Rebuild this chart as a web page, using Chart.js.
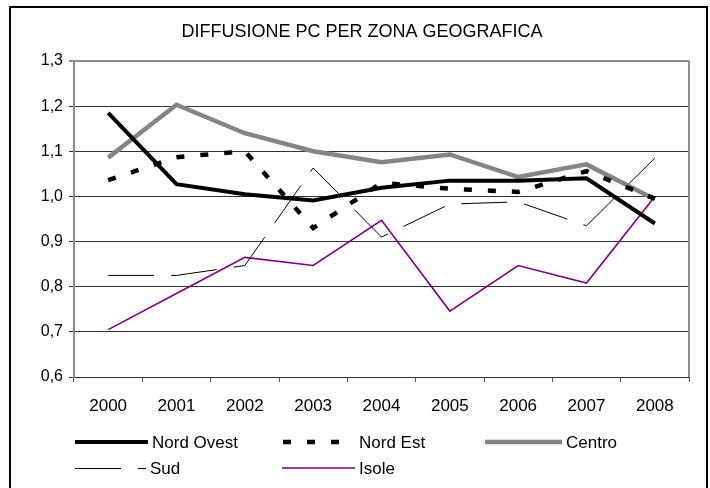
<!DOCTYPE html>
<html>
<head>
<meta charset="utf-8">
<script src="https://cdn.jsdelivr.net/npm/chart.js@4/dist/chart.umd.min.js"></script>
<style>
  body { margin: 0; background: #fff; }
  #wrap { position: relative; width: 710px; height: 488px; }
  #frame { position: absolute; left: 9px; top: 6px; width: 695px; height: 500px; border: 2px solid #000; pointer-events: none; }
</style>
</head>
<body>
<div id="wrap">
  <canvas id="myChart" width="710" height="488"></canvas>
  <div id="frame"></div>
</div>
<script>
const years = ["2000", "2001", "2002", "2003", "2004", "2005", "2006", "2007", "2008"];
const nordOvest = [1.185, 1.027, 1.005, 0.991, 1.019, 1.035, 1.035, 1.04, 0.94];
const nordEst = [1.036, 1.087, 1.1, 0.93, 1.03, 1.017, 1.01, 1.056, 0.995];
const centro = [1.086, 1.203, 1.14, 1.1, 1.076, 1.093, 1.043, 1.071, 0.994];
const sud = [0.825, 0.825, 0.847, 1.063, 0.91, 0.983, 0.988, 0.935, 1.085];
const isole = [0.705, 0.785, 0.865, 0.847, 0.947, 0.746, 0.847, 0.808, 1.0];
const yTicks = [0.6, 0.7, 0.8, 0.9, 1.0, 1.1, 1.2, 1.3];
const title = "DIFFUSIONE PC PER ZONA GEOGRAFICA";

const font = "'Liberation Sans', Arial, sans-serif";

// draws the title, the gray plot border (right side) and the two-row legend
const extras = {
	id: "extras",
	afterDraw(chart) {
		const ctx = chart.ctx;
		const a = chart.chartArea;
		ctx.save();
		ctx.fillStyle = "#000";
		ctx.font = "18px " + font;
		ctx.textAlign = "center";
		ctx.textBaseline = "middle";
		ctx.fillText(title, 362, 32);

		ctx.strokeStyle = "#8c8c8c";
		ctx.lineWidth = 2;
		ctx.beginPath();
		ctx.moveTo(a.right, a.top);
		ctx.lineTo(a.right, a.bottom);
		ctx.stroke();

		// legend slots: [x of sample, y, sample length]
		const slots = [
			[75, 442, 73],
			[283, 442, 72],
			[485, 442, 77],
			[75, 468, 71],
			[282, 468, 73],
		];
		ctx.font = "17px " + font;
		ctx.textAlign = "left";
		chart.data.datasets.forEach((ds, i) => {
			const s = slots[i];
			const y = ds.borderWidth % 2 === 1 ? s[1] + 0.5 : s[1];
			ctx.strokeStyle = ds.borderColor;
			ctx.lineWidth = ds.borderWidth;
			ctx.setLineDash(ds.borderDash || []);
			ctx.beginPath();
			ctx.moveTo(s[0], y);
			ctx.lineTo(s[0] + s[2], y);
			ctx.stroke();
			ctx.setLineDash([]);
			ctx.fillStyle = "#000";
			ctx.fillText(ds.label, s[0] + s[2] + 4, s[1] + 1);
		});
		ctx.restore();
	},
};

new Chart(document.getElementById("myChart"), {
	type: "line",
	data: {
		labels: years,
		datasets: [
			{ label: "Nord Ovest", data: nordOvest, borderColor: "#000000", borderWidth: 4 },
			{ label: "Nord Est", data: nordEst, borderColor: "#000000", borderWidth: 4.5, borderDash: [8, 16] },
			{ label: "Centro", data: centro, borderColor: "#858585", borderWidth: 4.5 },
			{ label: "Sud", data: sud, borderColor: "#000000", borderWidth: 1, borderDash: [46, 17] },
			{ label: "Isole", data: isole, borderColor: "#800080", borderWidth: 1.6 },
		],
	},
	options: {
		responsive: false,
		animation: false,
		elements: {
			point: { radius: 0 },
			line: { tension: 0, fill: false },
		},
		layout: {
			padding: { left: 0, right: 21, top: 61, bottom: 71 },
		},
		scales: {
			x: {
				offset: true,
				grid: {
					offset: true,
					drawOnChartArea: false,
					tickLength: 5,
					color: "#555",
				},
				border: { color: "#333", width: 1 },
				ticks: {
					color: "#000",
					padding: 14,
					maxRotation: 0,
					font: { family: font, size: 17 },
				},
				afterFit(axis) {
					axis.height = 40;
				},
			},
			y: {
				min: 0.6,
				max: 1.3,
				afterBuildTicks(axis) {
					axis.ticks = yTicks.map((v) => ({ value: v }));
				},
				grid: {
					tickLength: 5,
					color: (c) => (c.tick && c.tick.value >= 1.3 ? "#8c8c8c" : "#333"),
					lineWidth: (c) => (c.tick && c.tick.value >= 1.3 ? 2 : 1),
				},
				border: { color: "#8c8c8c", width: 2 },
				ticks: {
					color: "#000",
					padding: 6,
					font: { family: font, size: 16 },
					callback: (v) => v.toFixed(1).replace(".", ","),
				},
				afterFit(axis) {
					axis.width = 74;
				},
			},
		},
		plugins: {
			title: { display: false },
			legend: { display: false },
			tooltip: { enabled: false },
		},
	},
	plugins: [extras],
});
</script>
</body>
</html>
